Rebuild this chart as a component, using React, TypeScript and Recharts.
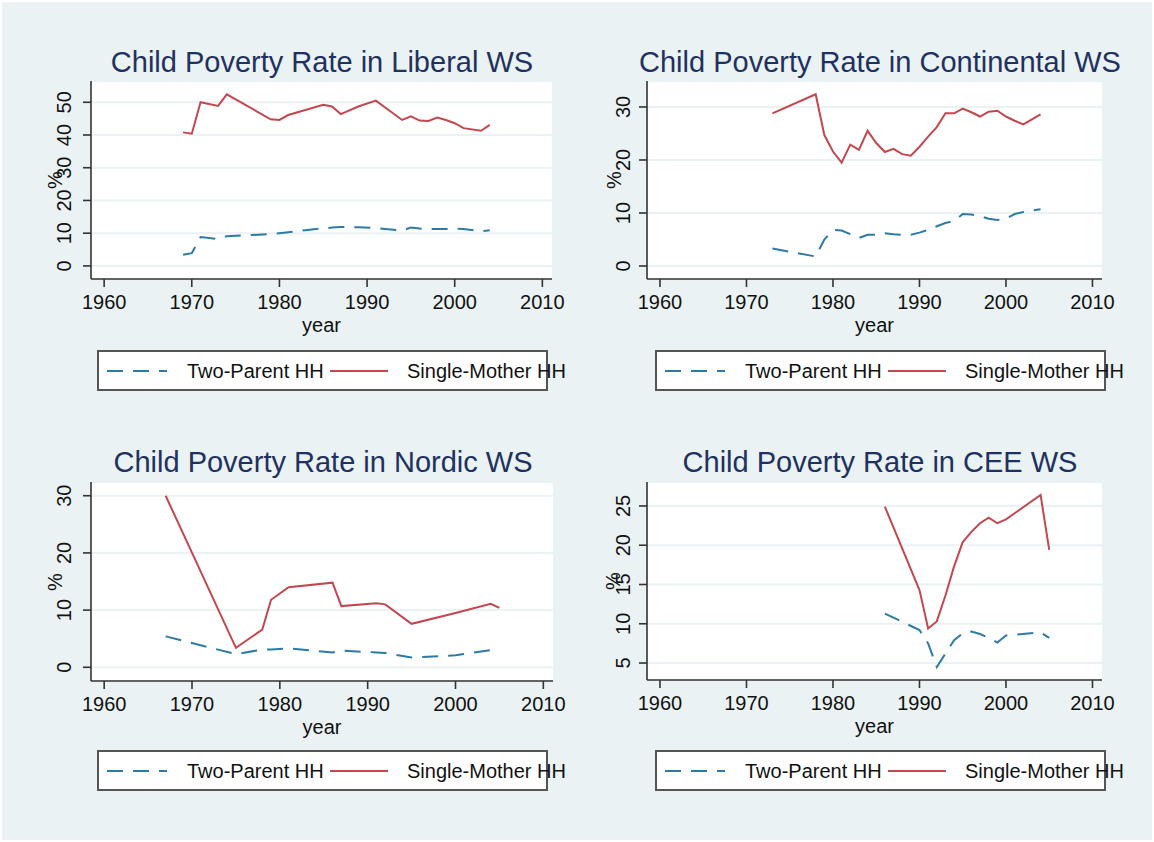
import { LineChart, Line, XAxis, YAxis, CartesianGrid } from "recharts";

const BG = "#EAF2F3";
const RED = "#C4474F";
const BLUE = "#2C7BA6";
const NAVY = "#1E3160";
const AXIS = "#333333";
const FONT = '"Liberation Sans", Arial, Helvetica, sans-serif';

const yearTicks = [1960, 1970, 1980, 1990, 2000, 2010];

// Liberal welfare states
const liberalYears = [1969, 1970, 1971, 1973, 1974, 1979, 1980, 1981, 1985, 1986, 1987, 1989, 1991, 1994, 1995, 1996, 1997, 1998, 1999, 2000, 2001, 2003, 2004];
const liberalTwoParent = [3.4, 3.9, 8.8, 8.2, 9.1, 9.7, 10.0, 10.3, 11.5, 11.7, 11.9, 11.8, 11.6, 10.8, 11.7, 11.4, 11.3, 11.3, 11.3, 11.4, 11.3, 10.6, 10.9];
const liberalSingleMother = [40.8, 40.4, 50.0, 48.9, 52.4, 44.8, 44.6, 46.1, 49.2, 48.7, 46.4, 48.7, 50.5, 44.6, 45.7, 44.4, 44.3, 45.3, 44.6, 43.6, 42.1, 41.3, 43.1];
const liberalTicks = [0, 10, 20, 30, 40, 50];

// Continental welfare states
const continentalYears = [1973, 1978, 1979, 1980, 1981, 1982, 1983, 1984, 1985, 1986, 1987, 1988, 1989, 1990, 1991, 1992, 1993, 1994, 1995, 1996, 1997, 1998, 1999, 2000, 2001, 2002, 2004];
const continentalTwoParent = [3.3, 1.8, 5.0, 6.8, 6.7, 6.0, 5.3, 5.9, 5.9, 6.2, 6.0, 5.9, 5.9, 6.3, 6.8, 7.5, 8.1, 8.5, 9.8, 9.7, 9.4, 8.9, 8.7, 8.9, 9.8, 10.2, 10.7];
const continentalSingleMother = [28.8, 32.4, 24.7, 21.6, 19.5, 22.9, 21.9, 25.5, 23.2, 21.5, 22.1, 21.1, 20.8, 22.5, 24.4, 26.2, 28.8, 28.8, 29.7, 29.0, 28.2, 29.1, 29.3, 28.2, 27.4, 26.7, 28.6];
const continentalTicks = [0, 10, 20, 30];

// Nordic welfare states
const nordicYears = [1967, 1975, 1978, 1979, 1981, 1986, 1987, 1991, 1992, 1995, 2000, 2004, 2005];
const nordicTwoParent = [5.4, 2.3, 3.1, 3.1, 3.3, 2.6, 2.9, 2.6, 2.5, 1.7, 2.1, 3.0, 3.4];
const nordicSingleMother = [30.0, 3.4, 6.6, 11.8, 14.0, 14.8, 10.7, 11.2, 11.0, 7.6, 9.5, 11.1, 10.4];
const nordicTicks = [0, 10, 20, 30];

// Central and Eastern European welfare states
const ceeYears = [1986, 1990, 1991, 1992, 1993, 1994, 1995, 1996, 1997, 1998, 1999, 2000, 2004, 2005];
const ceeTwoParent = [11.3, 9.2, 7.5, 4.5, 6.2, 7.9, 8.8, 9.0, 8.7, 8.2, 7.6, 8.5, 8.9, 8.2];
const ceeSingleMother = [24.9, 14.3, 9.4, 10.3, 13.6, 17.3, 20.4, 21.7, 22.8, 23.5, 22.8, 23.3, 26.4, 19.4];
const ceeTicks = [5, 10, 15, 20, 25];

const PANEL_W = 577;
const PANEL_H = 421;
// axes get a 1px box so recharts still renders them
const AXIS_BOX = 1;

type PanelDef = {
  title: string;
  years: number[];
  twoParent: number[];
  singleMother: number[];
  yTicks: number[];
  yDomain: [number, number];
  col: number;
  row: number;
  plot: { left: number; top: number; right: number; bottom: number };
  titleX: number;
  titleY: number;
  pctX: number;
  tickGap: number;
  legend: { left: number; top: number };
};

const panels: PanelDef[] = [
  {
    title: "Child Poverty Rate in Liberal WS",
    years: liberalYears, twoParent: liberalTwoParent, singleMother: liberalSingleMother,
    yTicks: liberalTicks, yDomain: [-4, 56.5],
    col: 0, row: 0,
    plot: { left: 91, top: 81, right: 552, bottom: 279 },
    titleX: 322, titleY: 62, pctX: 55, tickGap: 19,
    legend: { left: 97, top: 350 },
  },
  {
    title: "Child Poverty Rate in Continental WS",
    years: continentalYears, twoParent: continentalTwoParent, singleMother: continentalSingleMother,
    yTicks: continentalTicks, yDomain: [-2.45, 34.9],
    col: 1, row: 0,
    plot: { left: 647, top: 81, right: 1102, bottom: 279 },
    titleX: 880, titleY: 62, pctX: 614, tickGap: 16,
    legend: { left: 655, top: 350 },
  },
  {
    title: "Child Poverty Rate in Nordic WS",
    years: nordicYears, twoParent: nordicTwoParent, singleMother: nordicSingleMother,
    yTicks: nordicTicks, yDomain: [-2.4, 32.4],
    col: 0, row: 1,
    plot: { left: 91, top: 482, right: 553, bottom: 681 },
    titleX: 323, titleY: 462, pctX: 55, tickGap: 19,
    legend: { left: 97, top: 750 },
  },
  {
    title: "Child Poverty Rate in CEE WS",
    years: ceeYears, twoParent: ceeTwoParent, singleMother: ceeSingleMother,
    yTicks: ceeTicks, yDomain: [2.84, 28.05],
    col: 1, row: 1,
    plot: { left: 647, top: 482, right: 1102, bottom: 680 },
    titleX: 880, titleY: 462, pctX: 613, tickGap: 16,
    legend: { left: 655, top: 750 },
  },
];

function makeYTick(gap: number) {
  return function YTick(props: any) {
    const { x, y, payload } = props;
    const cx = x - gap;
    return (
      <text
        x={cx}
        y={y}
        transform={`rotate(-90, ${cx}, ${y})`}
        textAnchor="middle"
        dominantBaseline="central"
        fontSize={20}
        fontFamily={FONT}
        fill="#111"
      >
        {payload.value}
      </text>
    );
  };
}

function LegendBox({ left, top }: { left: number; top: number }) {
  return (
    <svg
      width={451}
      height={41}
      style={{ position: "absolute", left, top, overflow: "visible" }}
    >
      <rect x={1} y={1} width={449} height={39} fill="white" stroke="#555" strokeWidth={2} />
      <line x1={10} x2={70} y1={21} y2={21} stroke={BLUE} strokeWidth={2} strokeDasharray="16 10" />
      <text x={90} y={28} fontSize={20} fontFamily={FONT} fill="#111">Two-Parent HH</text>
      <line x1={233} x2={291} y1={21} y2={21} stroke={RED} strokeWidth={2} />
      <text x={310} y={28} fontSize={20} fontFamily={FONT} fill="#111">Single-Mother HH</text>
    </svg>
  );
}

function Panel({ p }: { p: PanelDef }) {
  const data = p.years.map((year, i) => ({
    year,
    twoParent: p.twoParent[i],
    singleMother: p.singleMother[i],
  }));
  const ox = p.col * PANEL_W;
  const oy = p.row * PANEL_H;
  const margin = {
    left: p.plot.left - ox - AXIS_BOX,
    top: p.plot.top - oy,
    right: ox + PANEL_W - p.plot.right,
    bottom: oy + PANEL_H - p.plot.bottom - AXIS_BOX,
  };
  const plotMidX = (p.plot.left + p.plot.right) / 2;
  const plotMidY = (p.plot.top + p.plot.bottom) / 2;

  return (
    <>
      <div style={{ position: "absolute", left: ox, top: oy }}>
        <LineChart width={PANEL_W} height={PANEL_H} data={data} margin={margin}>
          <CartesianGrid horizontal vertical={false} fill="white" stroke={BG} strokeWidth={2} />
          <XAxis
            type="number"
            dataKey="year"
            domain={[1958.5, 2011.1]}
            ticks={yearTicks}
            allowDataOverflow
            height={AXIS_BOX}
            tickSize={8}
            tickMargin={8}
            axisLine={{ stroke: AXIS, strokeWidth: 1.6 }}
            tickLine={{ stroke: AXIS, strokeWidth: 1.6 }}
            tick={{ fontSize: 20, fontFamily: FONT, fill: "#111" }}
          />
          <YAxis
            type="number"
            domain={p.yDomain}
            ticks={p.yTicks}
            allowDataOverflow
            width={AXIS_BOX}
            tickSize={8}
            tickMargin={0}
            axisLine={{ stroke: AXIS, strokeWidth: 1.6 }}
            tickLine={{ stroke: AXIS, strokeWidth: 1.6 }}
            tick={makeYTick(p.tickGap)}
          />
          <Line
            type="linear"
            dataKey="twoParent"
            stroke={BLUE}
            strokeWidth={2}
            strokeDasharray="16 10"
            dot={false}
            isAnimationActive={false}
          />
          <Line
            type="linear"
            dataKey="singleMother"
            stroke={RED}
            strokeWidth={2}
            dot={false}
            isAnimationActive={false}
          />
        </LineChart>
      </div>

      <div
        style={{
          position: "absolute",
          left: p.titleX - 300,
          top: p.titleY - 14,
          width: 600,
          textAlign: "center",
          fontSize: 29,
          lineHeight: "29px",
          color: NAVY,
          fontFamily: FONT,
          whiteSpace: "nowrap",
        }}
      >
        {p.title}
      </div>

      <div
        style={{
          position: "absolute",
          left: plotMidX - 50,
          top: p.plot.bottom + 36,
          width: 100,
          textAlign: "center",
          fontSize: 20,
          lineHeight: "20px",
          color: "#111",
          fontFamily: FONT,
        }}
      >
        year
      </div>

      <div
        style={{
          position: "absolute",
          left: p.pctX - 20,
          top: plotMidY - 10,
          width: 40,
          height: 20,
          textAlign: "center",
          fontSize: 20,
          lineHeight: "20px",
          color: "#111",
          fontFamily: FONT,
          transform: "rotate(-90deg)",
        }}
      >
        %
      </div>

      <LegendBox left={p.legend.left} top={p.legend.top} />
    </>
  );
}

export default function App() {
  return (
    <div
      style={{
        position: "absolute",
        left: 0,
        top: 0,
        width: 1154,
        height: 842,
        background: "white",
        overflow: "hidden",
      }}
    >
      <div style={{ position: "absolute", left: 2, top: 2, width: 1150, height: 838, background: BG }} />
      {panels.map((p) => (
        <Panel key={p.title} p={p} />
      ))}
    </div>
  );
}
